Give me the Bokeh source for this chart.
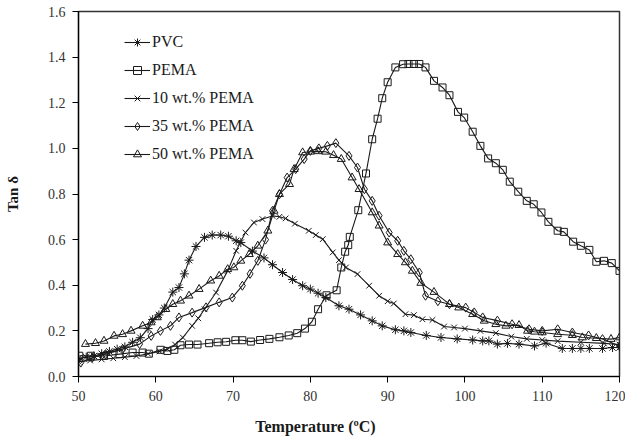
from bokeh.plotting import figure
from bokeh.models import Range1d, FixedTicker, Legend, LegendItem, Label
from bokeh.embed import file_html
from bokeh.resources import INLINE

x_ticks = [50, 60, 70, 80, 90, 100, 110, 120]
y_ticks = [0.0, 0.2, 0.4, 0.6, 0.8, 1.0, 1.2, 1.4, 1.6]
y_tick_labels = ["0.0", "0.2", "0.4", "0.6", "0.8", "1.0", "1.2", "1.4", "1.6"]

series_names = ["PVC", "PEMA", "10 wt.% PEMA", "35 wt.% PEMA", "50 wt.% PEMA"]

pvc_t = [50, 51, 52, 53, 54, 55, 56, 57, 58, 59, 59.6, 60.4, 61.1, 62.2, 63.0, 63.7, 64.3, 65.2,
         66.3, 67.3, 68.4, 69.4, 70.4, 71.0, 72.5, 74.0, 75.1, 76.4, 77.7, 79.0, 80.0, 81.0, 82.0,
         83.7, 85.0, 86.5, 88.0, 89.3, 91.0, 92.1, 93.0, 95.0, 96.9, 99.0, 101.0, 102.3, 103.1,
         104.2, 105.5, 107.0, 109.0, 110.5, 112.6, 113.9, 115.0, 116.1, 117.8, 119.1, 120]
pvc_v = [0.08, 0.085, 0.09, 0.10, 0.11, 0.12, 0.13, 0.15, 0.17, 0.21, 0.25, 0.27, 0.30, 0.37, 0.39,
         0.45, 0.51, 0.57, 0.61, 0.62, 0.62, 0.615, 0.595, 0.587, 0.55, 0.52, 0.49, 0.456, 0.425,
         0.398, 0.383, 0.365, 0.346, 0.31, 0.295, 0.27, 0.244, 0.222, 0.205, 0.2, 0.193, 0.18, 0.171,
         0.165, 0.16, 0.156, 0.156, 0.142, 0.145, 0.142, 0.134, 0.146, 0.123, 0.123, 0.123, 0.123,
         0.123, 0.127, 0.127]

pema_t = [50.1, 51.6, 53.3, 55.3, 57.0, 58.3, 59.1, 60.6, 61.5, 62.4, 63.2, 64.3, 65.4, 66.9, 68.0,
          69.1, 70.3, 71.2, 72.3, 73.5, 74.7, 76.0, 77.2, 78.3, 79.3, 80.2, 81.0, 82.1, 83.4, 84.0,
          84.5, 84.9, 85.1, 86.2, 87.2, 88.0, 88.7, 89.3, 90.0, 91.0, 92.0, 92.7, 93.4, 94.1, 94.9,
          96.0, 97.1, 98.0, 99.1, 99.9, 101.0, 102.0, 103.0, 104.0, 104.9, 105.8, 106.9, 108.0,
          108.9, 109.9, 110.8, 112.0, 112.8, 114.0, 115.0, 116.1, 117.0, 118.0, 119.0, 120]
pema_v = [0.091, 0.091, 0.09, 0.098, 0.105, 0.105, 0.10, 0.117, 0.112, 0.117, 0.137, 0.14, 0.14,
          0.146, 0.15, 0.152, 0.159, 0.159, 0.153, 0.16, 0.165, 0.172, 0.18, 0.19, 0.21, 0.24, 0.295,
          0.356, 0.378, 0.478, 0.547, 0.576, 0.612, 0.729, 0.89, 1.04, 1.13, 1.22, 1.29, 1.355,
          1.369, 1.37, 1.37, 1.37, 1.355, 1.296, 1.267, 1.233, 1.16, 1.135, 1.073, 1.011, 0.956,
          0.935, 0.906, 0.854, 0.81, 0.77, 0.755, 0.719, 0.678, 0.639, 0.634, 0.591, 0.573, 0.555,
          0.503, 0.507, 0.497, 0.463]

p10_t = [50, 51.5, 53, 54.5, 56, 57.5, 59, 60.5, 61.5, 62.5, 63.5, 64.7, 65.5, 66.3, 67.8, 69.3,
         70.4, 71.6, 72.7, 73.8, 75.1, 76.0, 76.8, 78.0, 79.8, 80.7, 81.6, 82.9, 83.7, 84.6, 86.1,
         87.6, 88.9, 90.0, 90.8, 92.3, 93.4, 94.5, 95.8, 97.3, 98.6, 100.0, 102.0, 104.0, 106.0,
         108.0, 110.0, 112.0, 115.0, 118.0, 120]
p10_v = [0.065, 0.07, 0.075, 0.08, 0.085, 0.09, 0.10, 0.11, 0.12, 0.14, 0.171, 0.222, 0.255, 0.295,
         0.368, 0.463, 0.551, 0.631, 0.675, 0.69, 0.704, 0.70, 0.693, 0.67, 0.639, 0.62, 0.602,
         0.544, 0.51, 0.478, 0.449, 0.398, 0.354, 0.33, 0.32, 0.273, 0.269, 0.251, 0.248, 0.219,
         0.215, 0.21, 0.20, 0.19, 0.175, 0.165, 0.16, 0.155, 0.15, 0.145, 0.14]

p35_t = [50.3, 51.8, 53.5, 55.7, 57.9, 59.4, 60.6, 61.9, 63.0, 64.7, 66.5, 68.2, 69.9, 71.2, 72.2,
         73.2, 74.2, 75.1, 76.0, 77.0, 78.1, 79.2, 80.0, 81.1, 82.2, 83.3, 85.0, 86.1, 87.0, 88.0,
         88.9, 90.2, 91.3, 92.1, 93.0, 94.1, 94.9, 96.5, 98.0, 100.1, 101.2, 102.3, 104.2, 106.1,
         108.3, 110.0, 112.0, 113.9, 116.0, 117.8, 120]
p35_v = [0.061, 0.083, 0.098, 0.12, 0.142, 0.178, 0.2, 0.222, 0.259, 0.28, 0.303, 0.325, 0.346,
         0.398, 0.45, 0.507, 0.6, 0.726, 0.799, 0.872, 0.909, 0.953, 0.989, 1.0, 1.011, 1.023,
         0.967, 0.916, 0.821, 0.77, 0.705, 0.631, 0.595, 0.551, 0.514, 0.456, 0.354, 0.33, 0.317,
         0.302, 0.281, 0.259, 0.245, 0.229, 0.207, 0.2, 0.207, 0.193, 0.18, 0.164, 0.134]

p50_t = [50.9, 52.2, 53.3, 54.6, 55.7, 56.8, 58.3, 59.4, 60.2, 61.3, 62.2, 63.2, 64.3, 65.6, 67.1,
         68.2, 69.3, 70.1, 71.0, 72.1, 73.2, 74.5, 75.3, 76.0, 77.3, 77.9, 79.0, 80.0, 81.0, 82.0,
         83.0, 84.0, 85.4, 86.3, 88.0, 88.9, 90.0, 91.3, 92.3, 93.2, 94.3, 96.0, 98.0, 99.2, 101.0,
         102.5, 104.0, 105.3, 107.0, 108.1, 109.0, 110.0, 112.0, 113.9, 115.2, 117.0, 118.9, 120]
p50_v = [0.142, 0.146, 0.156, 0.178, 0.185, 0.2, 0.222, 0.237, 0.259, 0.295, 0.317, 0.332, 0.354,
         0.383, 0.42, 0.441, 0.47, 0.478, 0.507, 0.536, 0.573, 0.639, 0.726, 0.799, 0.843, 0.909,
         0.982, 0.985, 0.987, 0.985, 0.97, 0.953, 0.872, 0.821, 0.719, 0.661, 0.587, 0.536, 0.5,
         0.463, 0.41, 0.37, 0.317, 0.302, 0.273, 0.244, 0.229, 0.222, 0.225, 0.2, 0.196, 0.193,
         0.185, 0.181, 0.171, 0.168, 0.164, 0.171]

FONT = "Liberation Serif"
INK = "#1a1a1a"

p = figure(width=625, height=438, output_backend="svg", toolbar_location=None,
           x_range=Range1d(50, 120), y_range=Range1d(0, 1.6),
           min_border_left=78, min_border_right=6, min_border_top=11, min_border_bottom=62)
p.background_fill_color = "white"
p.border_fill_color = "white"
p.outline_line_color = "#333333"
p.outline_line_width = 1.5
p.xgrid.visible = False
p.ygrid.visible = False

p.xaxis.ticker = FixedTicker(ticks=x_ticks)
p.yaxis.ticker = FixedTicker(ticks=y_ticks)
p.yaxis.major_label_overrides = {t: l for t, l in zip(y_ticks, y_tick_labels)}
for ax in (p.xaxis[0], p.yaxis[0]):
    ax.axis_line_color = "black"
    ax.axis_line_width = 1.2
    ax.major_tick_line_color = "black"
    ax.major_tick_out = 6
    ax.major_tick_in = 0
    ax.minor_tick_out = 0
    ax.minor_tick_in = 0
    ax.major_label_text_font = FONT
    ax.major_label_text_font_size = "14px"
    ax.major_label_text_color = "#333333"
    ax.axis_label_text_font = FONT
    ax.axis_label_text_font_style = "bold"
    ax.axis_label_text_font_size = "15px"
    ax.axis_label_text_color = INK
p.yaxis.axis_label = "Tan δ"
p.xaxis.major_label_standoff = 8
p.yaxis.major_label_standoff = 7
p.yaxis.axis_label_standoff = 24

xtitle = Label(x=237, y=-14, x_units="screen", y_units="screen", text="Temperature (ºC)",
               text_align="center", text_baseline="bottom",
               text_font=FONT, text_font_style="bold", text_font_size="16px", text_color=INK)
p.add_layout(xtitle, "below")

series = [
    (pvc_t, pvc_v, "asterisk", 9),
    (pema_t, pema_v, "square", 7),
    (p10_t, p10_v, "x", 8),
    (p35_t, p35_v, "diamond", 9),
    (p50_t, p50_v, "triangle", 8),
]

items = []
for name, (xs, ys, mk, sz) in zip(series_names, series):
    r1 = p.line(xs, ys, line_color=INK, line_width=1.1)
    r2 = p.scatter(xs, ys, marker=mk, size=sz, line_color=INK, fill_alpha=0, line_width=1)
    items.append(LegendItem(label=name, renderers=[r1, r2]))

legend = Legend(items=items, location=(46, 212))
legend.label_text_font = FONT
legend.label_text_font_size = "16px"
legend.label_text_color = INK
legend.glyph_width = 26
legend.glyph_height = 20
legend.label_height = 20
legend.spacing = 8
legend.padding = 0
legend.margin = 0
legend.label_standoff = 2
legend.background_fill_alpha = 0
legend.border_line_alpha = 0
p.add_layout(legend)

open("out.html", "w").write(file_html(p, INLINE))
